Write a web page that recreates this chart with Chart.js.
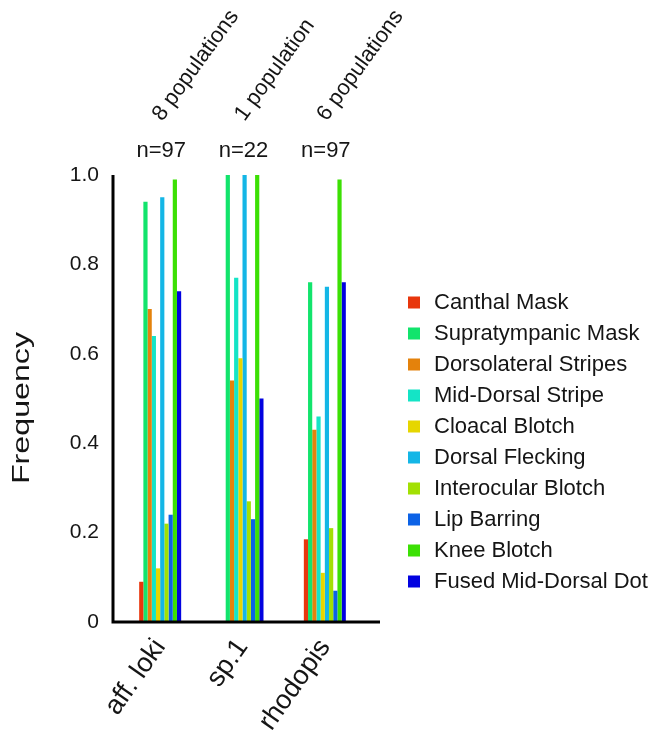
<!DOCTYPE html>
<html>
<head>
<meta charset="utf-8">
<title>Pattern frequency</title>
<script src="https://cdn.jsdelivr.net/npm/chart.js@4"></script>
<style>
  body { margin: 0; background: #fff; }
  #wrap { width: 652px; height: 731px; }
</style>
</head>
<body>
<div id="wrap"><canvas id="freq-chart" width="652" height="731"></canvas></div>
<script>
// Categories and the labels above them
let categories = ['aff. loki', 'sp.1', 'rhodopis']
let sampleSizes = ['n=97', 'n=22', 'n=97']
let populationLabels = ['8 populations', '1 population', '6 populations']
let yTicks = [0, 0.2, 0.4, 0.6, 0.8, 1.0]

// Traits (legend order) and their frequency in each category
let traits = ['Canthal Mask', 'Supratympanic Mask', 'Dorsolateral Stripes', 'Mid-Dorsal Stripe',
    'Cloacal Blotch', 'Dorsal Flecking', 'Interocular Blotch', 'Lip Barring', 'Knee Blotch',
    'Fused Mid-Dorsal Dot']
let canthalMask = [0.09, 0, 0.185]
let supratympanicMask = [0.94, 1.0, 0.76]
let dorsolateralStripes = [0.70, 0.54, 0.43]
let midDorsalStripe = [0.64, 0.77, 0.46]
let cloacalBlotch = [0.12, 0.59, 0.11]
let dorsalFlecking = [0.95, 1.0, 0.75]
let interocularBlotch = [0.22, 0.27, 0.21]
let lipBarring = [0.24, 0.23, 0.07]
let kneeBlotch = [0.99, 1.0, 0.99]
let fusedMidDorsalDot = [0.74, 0.50, 0.76]

let traitValues = [canthalMask, supratympanicMask, dorsolateralStripes, midDorsalStripe,
    cloacalBlotch, dorsalFlecking, interocularBlotch, lipBarring, kneeBlotch, fusedMidDorsalDot]
let traitColors = ['#e8360c', '#12e46c', '#e4820c', '#14e4c6', '#e6d600',
    '#14b6e6', '#a2e004', '#0c62e6', '#3ce004', '#0202e0']

let datasets = traits.map(function(trait, i) {
    return {
        label: trait,
        data: traitValues[i],
        backgroundColor: traitColors[i],
        borderWidth: 0,
        categoryPercentage: 0.51,
        barPercentage: 1.0
    }
})

let font = '"Liberation Sans", Arial, sans-serif'

// Axis lines, top labels, y title and the legend are drawn here
let decorations = {
    id: 'decorations',
    afterDraw: function(chart) {
        let ctx = chart.ctx
        let area = chart.chartArea
        let xScale = chart.scales.x
        ctx.save()

        // axis lines
        ctx.strokeStyle = '#000'
        ctx.lineWidth = 3
        ctx.beginPath()
        ctx.moveTo(area.left - 6, area.top)
        ctx.lineTo(area.left - 6, area.bottom)
        ctx.lineTo(area.right + 14, area.bottom)
        ctx.stroke()

        // n= labels and rotated population counts
        ctx.fillStyle = '#151515'
        categories.forEach(function(cat, i) {
            let cx = xScale.getPixelForValue(i)
            ctx.font = '22px ' + font
            ctx.textAlign = 'center'
            ctx.textBaseline = 'middle'
            ctx.fillText(sampleSizes[i], cx + 1, 151)

            ctx.save()
            ctx.translate(cx + 2, 122)
            ctx.rotate(-54 * Math.PI / 180)
            ctx.textAlign = 'left'
            ctx.textBaseline = 'alphabetic'
            ctx.fillText(populationLabels[i], 0, 0)
            ctx.restore()
        })

        // y axis title
        ctx.save()
        ctx.translate(23, 408)
        ctx.rotate(-Math.PI / 2)
        ctx.scale(1.4, 1)
        ctx.font = '23px ' + font
        ctx.textAlign = 'center'
        ctx.textBaseline = 'middle'
        ctx.fillText('Frequency', 0, 0)
        ctx.restore()

        // legend
        ctx.font = '22px ' + font
        ctx.textAlign = 'left'
        ctx.textBaseline = 'middle'
        chart.data.datasets.forEach(function(ds, i) {
            let y = 302.5 + i * 31
            ctx.fillStyle = ds.backgroundColor
            ctx.fillRect(408, y - 6, 12, 12)
            ctx.fillStyle = '#151515'
            ctx.fillText(ds.label, 434, y)
        })
        ctx.restore()
    }
}

let context = document.querySelector('#freq-chart').getContext('2d')

let freqChart = new Chart(context, {
    type: 'bar',
    data: {
        labels: categories,
        datasets: datasets
    },
    options: {
        responsive: false,
        animation: false,
        layout: { padding: { top: 175, right: 286, left: 0, bottom: 0 } },
        plugins: {
            legend: { display: false },
            tooltip: { enabled: false }
        },
        scales: {
            x: {
                grid: { display: false, drawTicks: false },
                border: { display: false },
                ticks: {
                    minRotation: 55,
                    maxRotation: 55,
                    padding: 11,
                    color: '#151515',
                    font: { family: font, size: 27 }
                },
                afterFit: function(scale) { scale.height = 109 }
            },
            y: {
                min: 0,
                max: 1,
                grid: { display: false, drawTicks: false },
                border: { display: false },
                afterBuildTicks: function(scale) {
                    scale.ticks = yTicks.map(function(v) { return { value: v } })
                },
                ticks: {
                    padding: 20,
                    color: '#151515',
                    font: { family: font, size: 21 },
                    callback: function(v) { return v === 0 ? '0' : v.toFixed(1) }
                },
                afterFit: function(scale) { scale.width = 119 }
            }
        }
    },
    plugins: [decorations]
})
</script>
</body>
</html>
